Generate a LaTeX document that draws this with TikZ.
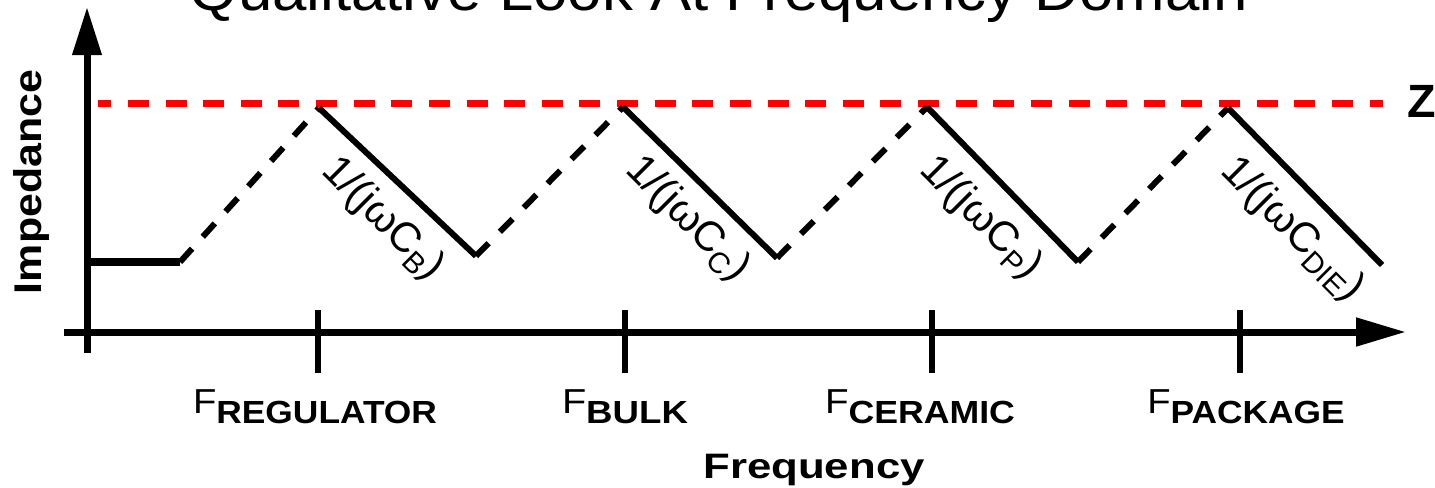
\documentclass[tikz,border=0pt]{standalone}
\usepackage{fontspec}
\setmainfont{Liberation Sans}
\usepackage{graphicx}
\usetikzlibrary{arrows.meta}
\newcommand{\rsub}[1]{\raisebox{-6pt}{\fontsize{22}{25}\selectfont #1}}
\newcommand{\flabel}[2]{\resizebox{#1}{\height}{\fontsize{26}{30}\selectfont F\raisebox{-7.5pt}{\bfseries\fontsize{24}{28}\selectfont #2}}}
\begin{document}
\begin{tikzpicture}[x=0.75pt,y=-0.75pt,
  axisline/.style={line width=5.25pt},
  tickline/.style={line width=4pt},
  solidseg/.style={line width=4.5pt},
  flatseg/.style={line width=5.5pt},
  dashseg/.style={line width=4.5pt, dash pattern=on 13.5pt off 12pt},
  zline/.style={red, line width=5.25pt, dash pattern=on 15.75pt off 12.47pt, dash phase=5.78pt},
  rlbl/.style={inner sep=0pt, anchor=base west, rotate=-45, font=\fontsize{31.5}{35}\selectfont},
  txt/.style={inner sep=0pt}]
\useasboundingbox (0,0) rectangle (1435,487);
% title
\node[txt, anchor=base] (title) at (719,10) {\resizebox{793.5pt}{\height}{\fontsize{43.5}{50}\selectfont Qualitative Look At Frequency Domain}};
% axes
\coordinate (yb) at (87,353);
\coordinate (yt) at (87,7);
\draw[axisline,-{Triangle[length=36pt,width=21pt]}] (yb) -- (yt);
\coordinate (xl) at (64,332);
\coordinate (xr) at (1406,332);
\draw[axisline,-{Triangle[length=37.5pt,width=20.5pt]}] (xl) -- (xr);
% ticks
\foreach \n/\x in {1/318,2/625,3/932,4/1240}{
  \coordinate (ta\n) at (\x,310);
  \coordinate (tb\n) at (\x,373);
  \draw[tickline] (ta\n) -- (tb\n);
}
% tick labels
\node[txt, anchor=base] (f1) at (315,413) {\flabel{183pt}{REGULATOR}};
\node[txt, anchor=base] (f2) at (625,413) {\flabel{94.5pt}{BULK}};
\node[txt, anchor=base] (f3) at (920,413) {\flabel{142.5pt}{CERAMIC}};
\node[txt, anchor=base] (f4) at (1246,413) {\flabel{148pt}{PACKAGE}};
% axis titles
\node[txt, anchor=base] (freq) at (814,478) {\resizebox{166pt}{\height}{\bfseries\fontsize{26.5}{30}\selectfont Frequency}};
\node[txt, anchor=base, rotate=90] (imp) at (41,182) {\resizebox{168pt}{\height}{\bfseries\fontsize{29}{32}\selectfont Impedance}};
% Z level
\coordinate (r0) at (98,103);
\coordinate (r1) at (1383,103);
\draw[zline] (r0) -- (r1);
\node[txt, anchor=base west] (zl) at (1407,117) {\bfseries\fontsize{35}{40}\selectfont Z};
% impedance curve
\coordinate (z0) at (87,262);
\coordinate (z1) at (180,262);
\coordinate (p1) at (319,108);
\coordinate (v1) at (476,256);
\coordinate (p2) at (623,107);
\coordinate (v2) at (777,258);
\coordinate (p3) at (927,107);
\coordinate (v3) at (1078,262);
\coordinate (p4) at (1228,108);
\coordinate (z9) at (1382,265);
\draw[flatseg] (z0) -- (z1);
\draw[dashseg] (z1) -- (p1);
\draw[solidseg] (p1) -- (v1);
\draw[dashseg] (v1) -- (p2);
\draw[solidseg] (p2) -- (v2);
\draw[dashseg] (v2) -- (p3);
\draw[solidseg] (p3) -- (v3);
\draw[dashseg] (v3) -- (p4);
\draw[solidseg] (p4) -- (z9);
% slope labels
\node[rlbl] (l1) at (320,172) {1/(jωC\rsub{B})};
\node[rlbl] (l2) at (624,171) {1/(jωC\rsub{C})};
\node[rlbl] (l3) at (918,171) {1/(jωC\rsub{P})};
\node[rlbl] (l4) at (1219,172) {1/(jωC\rsub{DIE})};
\end{tikzpicture}
\end{document}
